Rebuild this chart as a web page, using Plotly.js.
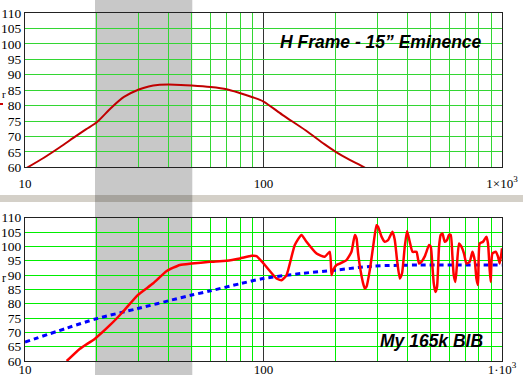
<!DOCTYPE html>
<html>
<head>
<meta charset="utf-8">
<script src="https://cdn.plot.ly/plotly-3.0.1.min.js"></script>
<style>html,body{margin:0;padding:0;background:#fff;}#chart{width:523px;height:385px;}</style>
</head>
<body>
<div id="chart"></div>
<script>
// Top panel: H Frame - 15" Eminence
const topFreq = [10, 12, 14, 16, 18, 20, 23, 26, 30, 33, 36, 40, 45, 50, 60, 70, 80, 90, 100, 120, 150, 180, 200, 230, 260, 280];
const topSpl  = [59.5, 63.1, 66.5, 69.6, 72.3, 74.6, 79.3, 82.8, 85.2, 86.2, 86.7, 86.8, 86.7, 86.5, 86, 85.3, 84, 82.7, 81.3, 77, 72, 67.5, 65.1, 62.4, 60.3, 58.8];

// Bottom panel: My 165k BIB (measured response)
const bibFreq = [14.96, 17.0, 19.65, 22.7, 25.7, 29.7, 34.5, 39.3, 44.6, 49.9, 59.6, 70.0, 79.6, 89.1, 93.5, 101.3, 113.4, 119.0, 124.9, 135.3, 144.3, 151.5, 166.9, 180.7, 189.7, 192.8, 195.8, 202.3, 208.9, 222.8, 233.8, 241.5, 245.5, 249.3, 255.1, 261.6, 265.9, 270.3, 279.1, 288.2, 297.8, 302.4, 312.5, 322.5, 332.9, 347.4, 355.2, 363.1, 372.8, 381.0, 391.1, 399.9, 410.4, 421.3, 437.8, 449.0, 459.5, 474.4, 482.2, 494.4, 502.6, 510.9, 517.4, 526.0, 534.2, 544.5, 553.5, 562.7, 575.4, 588.3, 599.7, 609.6, 619.7, 627.5, 637.9, 647.8, 660.4, 675.9, 693.0, 709.3, 732.2, 751.5, 768.4, 781.1, 793.2, 806.3, 832.4, 860.2, 873.6, 888.0, 896.6, 911.4, 941.0, 962.1, 978.0, 994.1, 1000];
const bibSpl  = [60, 64.3, 67.8, 72.5, 77.1, 83, 87.1, 91.4, 93.5, 94, 94.6, 95, 95.8, 96.7, 96.6, 93.5, 88.8, 88.2, 90, 100.5, 104, 101.6, 97.5, 96.4, 98.1, 90, 91.7, 93.5, 94, 95.2, 98.1, 104, 102.8, 97.5, 91.7, 87.1, 85.3, 85.9, 91.7, 99.9, 107.4, 106.8, 103.4, 101.6, 102.2, 105.1, 102.2, 95.2, 88.8, 90.6, 99.9, 105.4, 101.6, 98.1, 98.1, 94.0, 94.6, 96.5, 98.1, 100.5, 99.9, 92.9, 87.1, 84.1, 85.9, 99.9, 104, 104.5, 101.6, 102.2, 104, 104, 96.4, 90, 87.6, 94, 101, 99.9, 97.5, 94, 94.6, 98.1, 95.2, 88.8, 86.5, 101, 101.6, 103.4, 101, 91.7, 87.6, 97.5, 98.1, 96.4, 94, 97.5, 99.3];

// Bottom panel: blue dotted trend
const trendFreq = [10, 15, 20, 29.7, 44.6, 50, 60, 80, 100, 146, 200, 288, 452, 1000];
const trendSpl  = [66.6, 71.5, 74.8, 78.3, 82, 83, 84.5, 87, 88.8, 90.6, 91.7, 93.1, 93.5, 93.5];

// Axis ticks
const majorTicks = [10, 100, 1000];
const topTickText = ['10', '100', '1×10<sup>3</sup>'];
const bottomTickText = ['10', '100', '1·10<sup>3</sup>'];
const minorTicks = [20, 30, 40, 50, 60, 70, 80, 90, 200, 300, 400, 500, 600, 700, 800, 900];

const serif = 'Liberation Serif, Times New Roman, serif';
const sans = 'Liberation Sans, Arial, sans-serif';

function xAxis(anchor, ticktext, standoff, green) {
  return {
    type: 'log', range: [1, 3], domain: [0, 1], anchor: anchor,
    tickmode: 'array', tickvals: majorTicks, ticktext: ticktext,
    ticks: '', showgrid: true, gridcolor: '#333333', gridwidth: 1,
    minor: {tickmode: 'array', tickvals: minorTicks, showgrid: true, gridcolor: green, gridwidth: 1, ticks: ''},
    showline: true, mirror: true, linecolor: '#222222', linewidth: 1,
    tickfont: {family: serif, size: 13, color: '#000'},
    ticklabelstandoff: standoff, zeroline: false, fixedrange: true
  };
}
function yAxis(anchor, domain, green) {
  return {
    range: [60, 110], domain: domain, anchor: anchor,
    tickmode: 'linear', tick0: 60, dtick: 5,
    ticks: '', showgrid: true, gridcolor: green, gridwidth: 1,
    showline: true, mirror: true, linecolor: '#222222', linewidth: 1,
    tickfont: {family: serif, size: 13.5, color: '#000'},
    ticklabelstandoff: 0, zeroline: false, fixedrange: true
  };
}

const data = [
  {x: topFreq, y: topSpl, xaxis: 'x', yaxis: 'y', type: 'scatter', mode: 'lines',
   line: {color: '#c00000', width: 2, shape: 'spline', smoothing: 0.8}, hoverinfo: 'skip'},
  {x: trendFreq, y: trendSpl, xaxis: 'x2', yaxis: 'y2', type: 'scatter', mode: 'lines',
   line: {color: '#0000ff', width: 3, dash: '5px,4px', shape: 'spline', smoothing: 0.8}, hoverinfo: 'skip'},
  {x: bibFreq, y: bibSpl, xaxis: 'x2', yaxis: 'y2', type: 'scatter', mode: 'lines',
   line: {color: '#ff0000', width: 2.5, shape: 'spline', smoothing: 0.5}, hoverinfo: 'skip'}
];

// pixel helpers for paper coordinates (plot area: x 25..502, y 13..361)
const px = p => (p - 25) / 477;
const py = p => (361 - p) / 348;

const layout = {
  width: 523, height: 385,
  margin: {l: 25, r: 21, t: 13, b: 24, pad: 0},
  paper_bgcolor: '#ffffff', plot_bgcolor: 'rgba(0,0,0,0)',
  showlegend: false,
  xaxis: xAxis('y', topTickText, 4, '#33d633'),
  yaxis: yAxis('x', [py(167.3), 1], '#33d633'),
  xaxis2: xAxis('y2', bottomTickText, -4, '#00ee00'),
  yaxis2: yAxis('x2', [0, py(217.7)], '#00ee00'),
  shapes: [
    {type: 'rect', xref: 'paper', yref: 'paper', x0: px(0), x1: px(523), y0: py(202), y1: py(195),
     fillcolor: '#d4d0c8', line: {width: 0}, layer: 'below'},
    {type: 'rect', xref: 'paper', yref: 'paper', x0: px(95), x1: px(192.3), y0: py(375), y1: py(0),
     fillcolor: 'rgba(0,0,0,0.216)', line: {width: 0}, layer: 'below'},
    {type: 'line', xref: 'paper', yref: 'paper', x0: px(0), x1: px(3), y0: py(104), y1: py(104),
     line: {color: '#cc0000', width: 2}, layer: 'above'}
  ],
  annotations: [
    {text: '<b><i>H Frame - 15” Eminence</i></b>', xref: 'paper', yref: 'paper', x: px(381), y: py(42),
     xanchor: 'center', yanchor: 'middle', showarrow: false, font: {family: sans, size: 17.5, color: '#000'}},
    {text: '<b><i>My 165k BIB</i></b>', xref: 'paper', yref: 'paper', x: px(431), y: py(341),
     xanchor: 'center', yanchor: 'middle', showarrow: false, font: {family: sans, size: 17.5, color: '#000'}},
    {text: 'r', xref: 'paper', yref: 'paper', x: px(4), y: py(94), xanchor: 'center', yanchor: 'middle',
     showarrow: false, font: {family: serif, size: 11, color: '#000'}},
    {text: 'r', xref: 'paper', yref: 'paper', x: px(4), y: py(278), xanchor: 'center', yanchor: 'middle',
     showarrow: false, font: {family: serif, size: 12, color: '#000'}}
  ]
};

Plotly.newPlot('chart', data, layout, {displayModeBar: false, staticPlot: true});
</script>
</body>
</html>
